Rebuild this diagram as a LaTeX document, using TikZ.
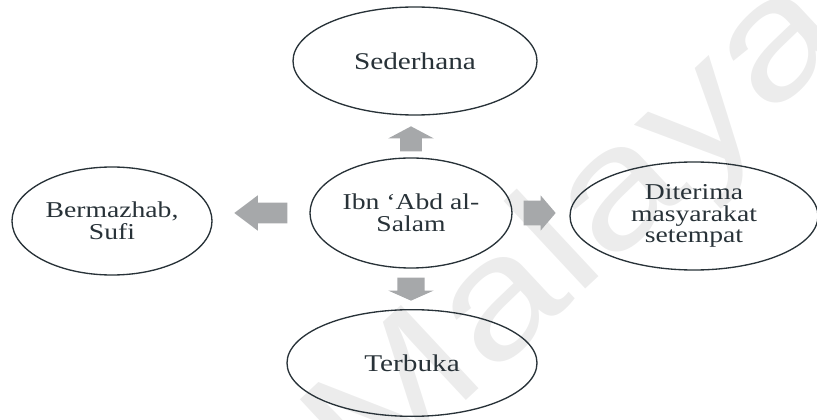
\documentclass[tikz,border=0pt]{standalone}
\usepackage{fontspec}
\setmainfont{Liberation Serif}[FakeStretch=1.22]
\newfontfamily\markfont{Liberation Sans}[FakeStretch=1.25]
\usetikzlibrary{shapes.geometric,shapes.arrows,calc,positioning}

\definecolor{inkslate}{RGB}{40,50,56}
\definecolor{arrowgray}{RGB}{166,168,170}
\definecolor{markgray}{RGB}{236,236,236}

\begin{document}
\begin{tikzpicture}[
    x=0.75pt,y=-0.75pt,
    idea/.style={ellipse,draw=inkslate,line width=1pt,text=inkslate,inner sep=0pt,align=center},
    bigidea/.style={idea,font=\fontsize{18}{19}\selectfont},
    smallidea/.style={idea,font=\fontsize{17}{16.3}\selectfont},
    blockarrow/.style={single arrow,fill=arrowgray,draw=none,inner xsep=0pt,outer sep=0pt},
    watermark/.style={text=markgray,font=\markfont\fontsize{124}{124}\selectfont}]
    \useasboundingbox (0,0) rectangle (817,420);
    % Faint watermark behind the diagram
    \node (mark) [watermark,rotate=43] at (580,236) {Malaya};
    % Hub and the four ellipses round it
    \node (hub) [smallidea,minimum width=151.5pt,minimum height=82.5pt] at (411,213) {Ibn ‘Abd al-\\Salam};
    \node (sederhana) [bigidea,minimum width=183pt,minimum height=81pt] at (415,61) {Sederhana};
    \node (bermazhab) [smallidea,minimum width=150pt,minimum height=81pt] at (112,221) {Bermazhab,\\Sufi};
    \node (diterima) [smallidea,minimum width=186pt,minimum height=81pt] at (694,216) {Diterima\\masyarakat\\setempat};
    \node (terbuka) [bigidea,minimum width=187.5pt,minimum height=80pt] at (412,363) {Terbuka};
    % Block arrows, tail just off the hub
    \node (to_sederhana) [blockarrow,rotate=90,inner ysep=7.9pt,minimum height=18.75pt,
      single arrow head extend=9pt,single arrow tip angle=124,
      above=4.5pt of hub,anchor=tail] {};
    \node (to_terbuka) [blockarrow,rotate=-90,inner ysep=10.1pt,minimum height=17.25pt,
      single arrow head extend=6.75pt,single arrow tip angle=132,
      below=6.75pt of hub,anchor=tail] {};
    \node (to_diterima) [blockarrow,inner ysep=9pt,minimum height=24pt,
      single arrow head extend=4.1pt,single arrow tip angle=99,
      right=8.25pt of hub,anchor=tail] {};
    \node (to_bermazhab) [blockarrow,rotate=180,inner ysep=7.5pt,minimum height=39.75pt,
      single arrow head extend=5.6pt,single arrow tip angle=74,
      left=16.5pt of hub,anchor=tail] {};
\end{tikzpicture}
\end{document}
